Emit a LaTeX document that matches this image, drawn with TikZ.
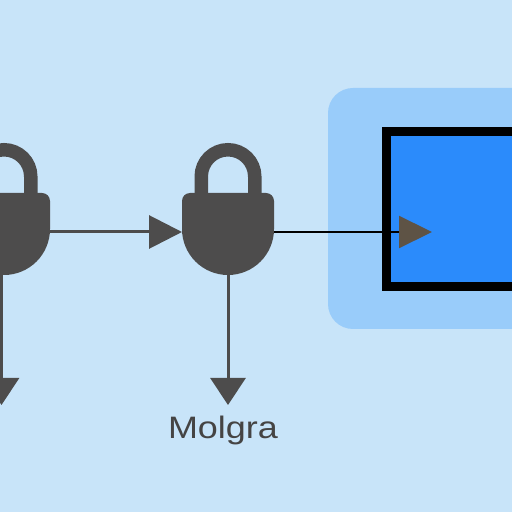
\documentclass[tikz,border=0pt]{standalone}
\usepackage{fontspec}
\setmainfont{Liberation Sans}
\usetikzlibrary{arrows.meta}
\definecolor{bgblue}{HTML}{C8E4F9}
\definecolor{panelblue}{HTML}{99CCFA}
\definecolor{boxblue}{HTML}{2B8BFB}
\definecolor{lockgray}{HTML}{4D4C4C}
\definecolor{tipbrown}{HTML}{5E5345}
\tikzset{
  x=1pt,y=1pt,
  grayline/.style={draw=lockgray,line width=3pt},
  tiphoriz/.style={-{Triangle[length=33pt,width=33pt,color=lockgray]}},
  tipdown/.style={-{Triangle[length=27pt,width=35pt,color=lockgray]}},
  padlock/.pic={
    \fill[lockgray] (-46,3) -- (-46,31) arc[start angle=180,end angle=90,radius=8]
      -- (38,39) arc[start angle=90,end angle=0,radius=8]
      -- (46,3) arc[start angle=0,end angle=-180,radius=46] -- cycle;
    \draw[lockgray,line width=13.5pt] (-26.75,35) -- (-26.75,55.5)
      arc[start angle=180,end angle=0,radius=26.75] -- (26.75,35);
    \coordinate (-east) at (46,0);
    \coordinate (-west) at (-46,0);
    \coordinate (-south) at (0,-43);
  }
}
\begin{document}
\begin{tikzpicture}
\useasboundingbox (0,0) rectangle (512,512);
\clip (0,0) rectangle (512,512);
\fill[bgblue] (0,0) rectangle (512,512);
% panel and box, running off the right edge
\fill[panelblue,rounded corners=25pt] (328,183) rectangle (560,424);
\node[draw=black,fill=boxblue,line width=9pt,inner sep=0pt,minimum width=180pt,minimum height=155pt,anchor=west] (box) at (382,303) {};
% named connector ends
\coordinate (downA) at (1.5,107);
\coordinate (downB) at (228,107);
\coordinate (tipC) at (432,280);
% padlocks
\pic (lockA) at (4,280) {padlock};
\pic (lockB) at (228,280) {padlock};
% connectors
\draw[grayline,tiphoriz] (lockA-east) -- (lockB-west);
\draw[grayline,tipdown] (lockA-south -| downA) -- (downA);
\draw[grayline,tipdown] (lockB-south) -- (downB);
\draw[draw=black,line width=2.2pt,-{Triangle[length=33pt,width=32pt,color=tipbrown]}] (lockB-east) -- (tipC);
% label
\node[text=lockgray!90!black,font=\fontsize{31}{31}\selectfont,xscale=1.16,inner sep=0pt,anchor=base] (label) at (223,73) {Molgra};
\end{tikzpicture}
\end{document}
